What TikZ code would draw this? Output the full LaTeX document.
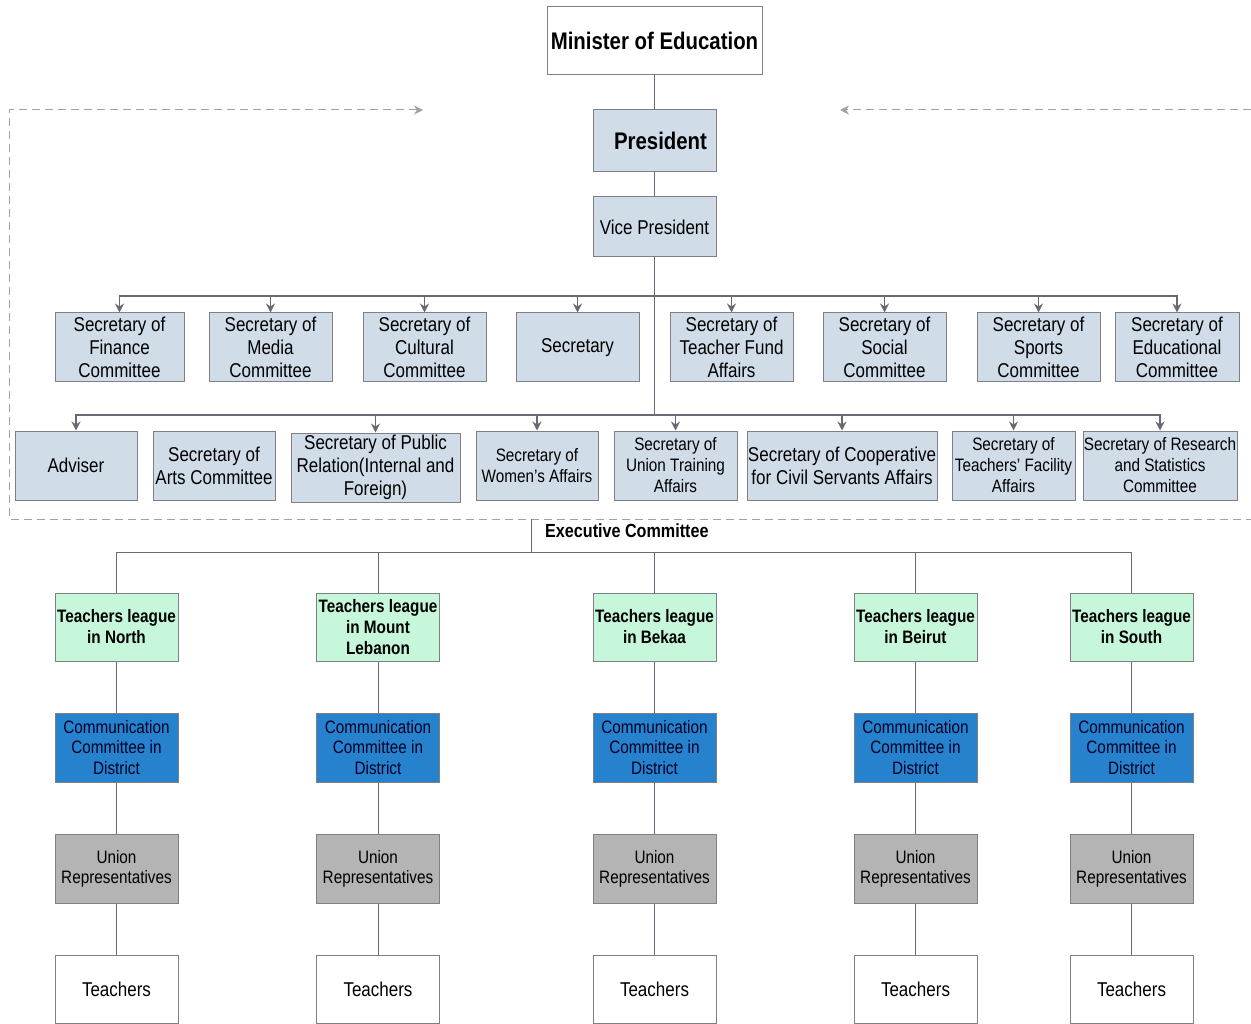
\documentclass[tikz,border=0pt]{standalone}
\usepackage{fontspec}
\setmainfont[FakeStretch=0.85]{Liberation Sans}
\usetikzlibrary{arrows.meta}
\definecolor{secfill}{RGB}{208,220,232}
\definecolor{boxline}{RGB}{128,128,132}
\definecolor{leaguefill}{RGB}{198,247,218}
\definecolor{commfill}{RGB}{38,130,204}
\definecolor{unionfill}{RGB}{180,180,180}
\definecolor{linkgray}{RGB}{105,105,115}
\definecolor{dashgray}{RGB}{160,160,165}
\begin{document}
\begin{tikzpicture}[x=1pt,y=-1pt,>={Stealth[length=9pt,width=9pt]},
	box/.style={draw=boxline,line width=1pt,rectangle,align=center,inner sep=0pt},
	sec/.style={box,fill=secfill,minimum width=123pt,minimum height=69pt,font=\fontsize{20}{23}\selectfont},
	secsmall/.style={sec,font=\fontsize{18}{21}\selectfont},
	league/.style={box,fill=leaguefill,minimum width=123pt,minimum height=68pt,font=\bfseries\fontsize{18}{21}\selectfont},
	comm/.style={box,fill=commfill,text=black!85!blue,minimum width=123pt,minimum height=69pt,font=\fontsize{18}{20.5}\selectfont},
	union/.style={box,fill=unionfill,minimum width=123pt,minimum height=69pt,font=\fontsize{18}{20}\selectfont},
	teach/.style={box,fill=white,minimum width=123pt,minimum height=68pt,font=\fontsize{20}{23}\selectfont},
	link/.style={draw=linkgray,line width=1pt},
	bus/.style={link,line width=1.4pt},
	outer/.style={draw=dashgray,line width=1pt,dash pattern=on 8pt off 5pt}]
	
	\useasboundingbox (0,0) rectangle (1251,1024);
	
	% top blocks
	\node[box,fill=white,minimum width=215pt,minimum height=68pt,font=\bfseries\fontsize{24}{28}\selectfont] (minister) at (654.5,41) {Minister of Education};
	\node[sec,minimum height=62pt,font=\bfseries\fontsize{24}{28}\selectfont,text width=105pt,align=right] (pres) at (654.5,141) {President};
	\node[sec,minimum height=60pt] (vp) at (654.5,227) {Vice President};
	
	% bus coordinates
	\coordinate (busA) at (654.5,296);
	\coordinate (busB) at (654.5,415);
	
	% first row of secretaries
	\node[sec,minimum width=129pt] (finance) at (119.5,347.5) {Secretary of\\Finance\\Committee};
	\node[sec] (media) at (270.5,347.5) {Secretary of\\Media\\Committee};
	\node[sec] (cultural) at (424.5,347.5) {Secretary of\\Cultural\\Committee};
	\node[sec] (secr) at (577.5,347.5) {Secretary};
	\node[sec] (fund) at (731.5,347.5) {Secretary of\\Teacher Fund\\Affairs};
	\node[sec] (social) at (884.5,347.5) {Secretary of\\Social\\Committee};
	\node[sec] (sports) at (1038.5,347.5) {Secretary of\\Sports\\Committee};
	\node[sec,minimum width=124pt] (educ) at (1177,347.5) {Secretary of\\Educational\\Committee};
	
	% second row of secretaries
	\node[sec,minimum width=122pt] (adviser) at (76,465.5) {Adviser};
	\node[sec,minimum width=122pt] (arts) at (214,465.5) {Secretary of\\Arts Committee};
	\node[sec,minimum width=169pt] (public) at (375.5,467.5) {Secretary of Public\\Relation(Internal and\\Foreign)};
	\node[secsmall,minimum width=122pt] (women) at (537,465.5) {Secretary of\\Women's Affairs};
	\node[secsmall] (training) at (675.5,465.5) {Secretary of\\Union Training\\Affairs};
	\node[sec,minimum width=190pt] (coop) at (842,465.5) {Secretary of Cooperative\\for Civil Servants Affairs};
	\node[secsmall] (facility) at (1013.5,465.5) {Secretary of\\Teachers' Facility\\Affairs};
	\node[secsmall,minimum width=154pt] (research) at (1160,465.5) {Secretary of Research\\and Statistics\\Committee};
	
	% trunk
	\draw[link] (minister) -- (pres);
	\draw[link] (pres) -- (vp);
	\draw[link] (vp) -- (busB);
	
	% first row arrows
	\draw[bus,->] (busA) -| (finance.north);
	\draw[bus,->] (busA) -| (media.north);
	\draw[bus,->] (busA) -| (cultural.north);
	\draw[bus,->] (busA) -| (secr.north);
	\draw[bus,->] (busA) -| (fund.north);
	\draw[bus,->] (busA) -| (social.north);
	\draw[bus,->] (busA) -| (sports.north);
	\draw[bus,->] (busA) -| (educ.north);
	
	% second row arrows (none to arts)
	\draw[bus,->] (busB) -| (adviser.north);
	\draw[bus,->] (busB) -| (public.north);
	\draw[bus,->] (busB) -| (women.north);
	\draw[bus,->] (busB) -| (training.north);
	\draw[bus,->] (busB) -| (coop.north);
	\draw[bus,->] (busB) -| (facility.north);
	\draw[bus,->] (busB) -| (research.north);
	
	% dashed frame
	\coordinate (dTL) at (9,110);
	\coordinate (dTLend) at (423,110);
	\coordinate (dBL) at (9,519);
	\coordinate (dBR) at (1251,519);
	\coordinate (dTR) at (1251,110);
	\coordinate (dTRend) at (840,110);
	\draw[outer,<-] (dTLend) -- (dTL) -- (dBL) -- (dBR);
	\draw[outer,->] (dTR) -- (dTRend);
	
	% executive committee
	\coordinate (exTop) at (531,519);
	\coordinate (busC) at (531,552);
	\node[anchor=west,inner sep=0pt,font=\bfseries\fontsize{19}{22}\selectfont] (exec) at (545,531) {Executive Committee};
	\draw[link] (exTop) -- (busC);
	
	% leagues
	\node[league] (north) at (116.5,627) {Teachers league\\in North};
	\node[league] (mount) at (378,627) {Teachers league\\in Mount\\Lebanon};
	\node[league] (bekaa) at (654.5,627) {Teachers league\\in Bekaa};
	\node[league] (beirut) at (915.5,627) {Teachers league\\in Beirut};
	\node[league] (south) at (1131.5,627) {Teachers league\\in South};
	
	\draw[link] (busC) -| (north.north);
	\draw[link] (busC) -| (mount.north);
	\draw[link] (busC) -| (bekaa.north);
	\draw[link] (busC) -| (beirut.north);
	\draw[link] (busC) -| (south.north);
	
	% communication committees
	\node[comm] (commN) at (116.5,747.5) {Communication\\Committee in\\District};
	\node[comm] (commM) at (378,747.5) {Communication\\Committee in\\District};
	\node[comm] (commBk) at (654.5,747.5) {Communication\\Committee in\\District};
	\node[comm] (commBt) at (915.5,747.5) {Communication\\Committee in\\District};
	\node[comm] (commS) at (1131.5,747.5) {Communication\\Committee in\\District};
	
	% union representatives
	\node[union] (unionN) at (116.5,868.5) {Union\\Representatives};
	\node[union] (unionM) at (378,868.5) {Union\\Representatives};
	\node[union] (unionBk) at (654.5,868.5) {Union\\Representatives};
	\node[union] (unionBt) at (915.5,868.5) {Union\\Representatives};
	\node[union] (unionS) at (1131.5,868.5) {Union\\Representatives};
	
	% teachers
	\node[teach] (teachN) at (116.5,989) {Teachers};
	\node[teach] (teachM) at (378,989) {Teachers};
	\node[teach] (teachBk) at (654.5,989) {Teachers};
	\node[teach] (teachBt) at (915.5,989) {Teachers};
	\node[teach] (teachS) at (1131.5,989) {Teachers};
	
	% columns
	\draw[link] (north) -- (commN) -- (unionN) -- (teachN);
	\draw[link] (mount) -- (commM) -- (unionM) -- (teachM);
	\draw[link] (bekaa) -- (commBk) -- (unionBk) -- (teachBk);
	\draw[link] (beirut) -- (commBt) -- (unionBt) -- (teachBt);
	\draw[link] (south) -- (commS) -- (unionS) -- (teachS);
\end{tikzpicture}
\end{document}
